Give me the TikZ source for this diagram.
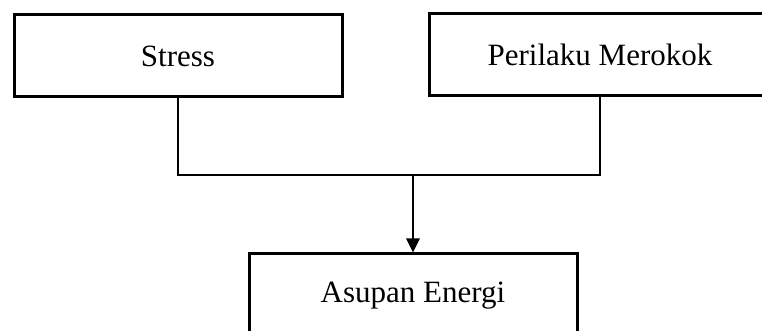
\documentclass[tikz,border=0pt]{standalone}
\usepackage{fontspec}
\setmainfont{Liberation Serif}
\usetikzlibrary{arrows.meta}

\begin{document}
\begin{tikzpicture}[x=0.5pt, y=-0.5pt]
    \tikzset{kotak/.style={draw, line width=1.5pt, minimum width=164pt, minimum height=41pt,
                inner sep=0pt, font=\fontsize{15.5}{18}\selectfont}} %% box style
    \tikzset{garis/.style={line width=1.3pt}}
    \useasboundingbox (0,0) rectangle (762,331);

    \node[kotak] (stress) at (178,56) {Stress};
    \node[kotak, minimum width=171pt] (merokok) at (600,54.5) {Perilaku Merokok};
    \node[kotak, minimum height=42pt] (energi) at (413,296) {Asupan Energi};

    \coordinate (temu) at (413,175);
    \draw[garis] (stress.south) |- (temu) -| (merokok.south);
    \draw[garis, -{Triangle[width=6.5pt,length=7pt]}] (temu) -- (energi.north);
\end{tikzpicture}
\end{document}
